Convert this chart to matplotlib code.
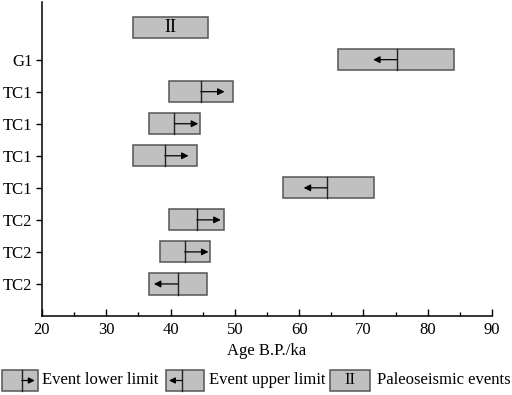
import numpy as np
import matplotlib
matplotlib.use("Agg")
import matplotlib.pyplot as plt
from matplotlib.patches import Rectangle

plt.rcParams['font.family'] = ['Liberation Serif', 'DejaVu Serif']

# rows from bottom to top
labels = ['TC2', 'TC2', 'TC2', 'TC1', 'TC1', 'TC1', 'TC1', 'G1']
lower = [36.6, 38.4, 39.7, 57.5, 34.2, 36.7, 39.7, 66.1]
upper = [45.6, 46.1, 48.3, 71.6, 44.1, 44.5, 49.7, 84.1]
middle = [41.1, 42.2, 44.1, 64.4, 39.1, 40.6, 44.7, 75.2]
# +1: event lower limit (arrow right), -1: event upper limit (arrow left)
direction = [-1, 1, 1, -1, 1, 1, 1, -1]

event_lo, event_hi = 34.2, 45.8
event_name = 'II'

face = '#c0c0c0'
edge = '#555555'
box_h = 0.66
arr_len = 3.7

fig = plt.figure(figsize=(5.12, 3.95), dpi=100)
ax = fig.add_axes([0.082, 0.2, 0.879, 0.795])

def draw_box(ax, lo, hi, y, mid=None, d=0):
    ax.add_patch(Rectangle((lo, y - box_h / 2), hi - lo, box_h,
                           facecolor=face, edgecolor=edge, lw=1.1, zorder=2))
    if mid is not None:
        ax.plot([mid, mid], [y - box_h / 2, y + box_h / 2], color='#222222', lw=1.0, zorder=3)
        ax.annotate('', xy=(mid + d * arr_len, y), xytext=(mid, y),
                    arrowprops=dict(arrowstyle='-|>', color='black', lw=0.9,
                                    mutation_scale=10, shrinkA=0, shrinkB=0),
                    zorder=4)

for i in range(len(labels)):
    draw_box(ax, lower[i], upper[i], i + 1, middle[i], direction[i])

top_row = len(labels) + 1
draw_box(ax, event_lo, event_hi, top_row)
ax.text((event_lo + event_hi) / 2, top_row, event_name, ha='center', va='center', fontsize=13, zorder=5)

ax.set_xlim(20, 90)
ax.set_ylim(0, 9.8)
ax.set_yticks(range(1, len(labels) + 1))
ax.set_yticklabels(labels)
ax.set_xticks(np.arange(20, 91, 10))
ax.set_xticks(np.arange(25, 90, 10), minor=True)
ax.tick_params(axis='x', direction='in', length=5, width=1, labelsize=12, pad=4)
ax.tick_params(axis='x', which='minor', direction='in', length=3, width=1)
ax.tick_params(axis='y', direction='out', length=4, width=1, labelsize=12, pad=3)
for s in ['top', 'right']:
    ax.spines[s].set_visible(False)
for s in ['left', 'bottom']:
    ax.spines[s].set_linewidth(1.1)
ax.set_xlabel('Age B.P./ka', fontsize=12, labelpad=4)

# legend strip
lg = fig.add_axes([0, 0, 1, 0.1])
lg.set_xlim(0, 512)
lg.set_ylim(0, 39.5)
lg.axis('off')

def leg_box(x0, x1, kind):
    yc = 14.5
    h = 21
    lg.add_patch(Rectangle((x0, yc - h / 2), x1 - x0, h, facecolor=face, edgecolor=edge, lw=1.1))
    if kind == 'lower':
        m = x0 + (x1 - x0) * 0.55
        lg.plot([m, m], [yc - h / 2, yc + h / 2], color='#222222', lw=1.0)
        lg.annotate('', xy=(m + 13, yc), xytext=(m, yc),
                    arrowprops=dict(arrowstyle='-|>', color='black', lw=0.9,
                                    mutation_scale=9, shrinkA=0, shrinkB=0))
    elif kind == 'upper':
        m = x0 + (x1 - x0) * 0.42
        lg.plot([m, m], [yc - h / 2, yc + h / 2], color='#222222', lw=1.0)
        lg.annotate('', xy=(m - 13, yc), xytext=(m, yc),
                    arrowprops=dict(arrowstyle='-|>', color='black', lw=0.9,
                                    mutation_scale=9, shrinkA=0, shrinkB=0))
    else:
        lg.text((x0 + x1) / 2, yc, 'II', ha='center', va='center', fontsize=12)

leg_box(2, 38, 'lower')
lg.text(42, 14.5, 'Event lower limit', va='center', fontsize=12)
leg_box(166, 204, 'upper')
lg.text(209, 14.5, 'Event upper limit', va='center', fontsize=12)
leg_box(330, 370, 'event')
lg.text(377, 14.5, 'Paleoseismic events', va='center', fontsize=12)

fig.savefig('out.png', dpi=100)
